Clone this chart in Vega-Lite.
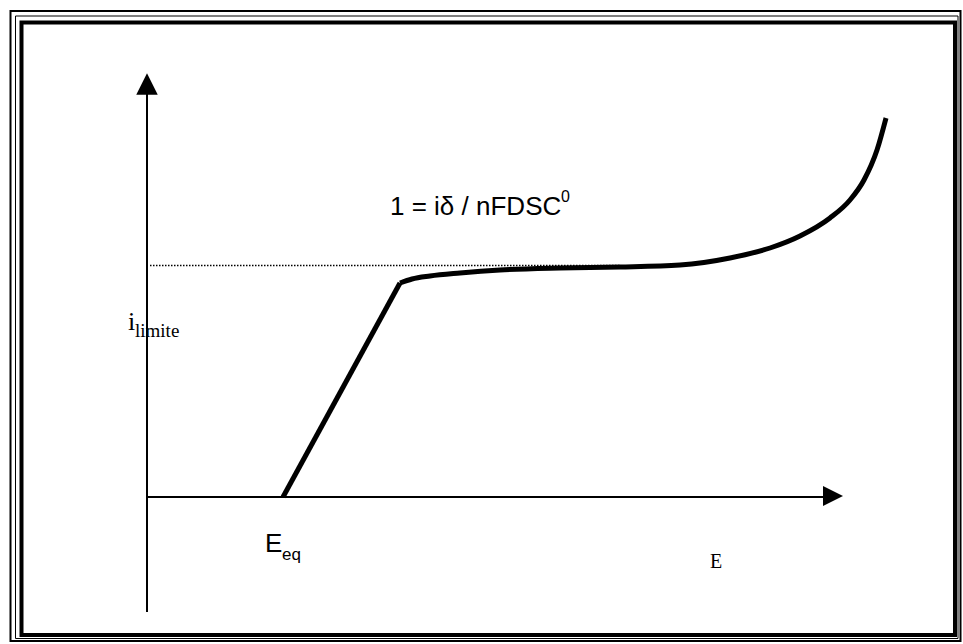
{
  "$schema": "https://vega.github.io/schema/vega-lite/v6.json",
  "width": 963,
  "height": 644,
  "autosize": {"type": "fit", "contains": "padding"},
  "padding": 0,
  "background": "white",
  "view": {"stroke": null},
  "datasets": {
    "outerFrame": [{"x": 10.5, "x2": 960.5, "y": 11, "y2": 641}],
    "midFrame": [{"x": 15.5, "x2": 958, "y": 16, "y2": 638.5}],
    "innerFrame": [{"x": 21.5, "x2": 955, "y": 22.5, "y2": 635}],
    "yAxis": [{"x": 147, "y": 92, "y2": 612}],
    "xAxis": [{"x": 147, "x2": 826, "y": 497}],
    "yArrow": [{"x": 147, "y": 84}],
    "xArrow": [{"x": 833, "y": 496}],
    "dotted": [{"x": 150, "x2": 620, "y": 265.5}],
    "rise": [{"x": 283, "y": 497}, {"x": 400, "y": 283}],
    "plateau": [
      {"x": 400, "y": 283}, {"x": 412, "y": 279}, {"x": 430, "y": 276}, {"x": 460, "y": 273},
      {"x": 500, "y": 270}, {"x": 560, "y": 268}, {"x": 620, "y": 267}, {"x": 680, "y": 265},
      {"x": 730, "y": 258}, {"x": 770, "y": 248}, {"x": 800, "y": 236}, {"x": 830, "y": 218},
      {"x": 850, "y": 200}, {"x": 864, "y": 180}, {"x": 877, "y": 150}, {"x": 886, "y": 118}
    ],
    "eqMain": [{"x": 390, "y": 215, "t": "1 = iδ / nFDSC"}],
    "eqSup": [{"x": 561, "y": 202, "t": "0"}],
    "iMain": [{"x": 128, "y": 330, "t": "i"}],
    "iSub": [{"x": 135, "y": 337, "t": "limite"}],
    "eeqMain": [{"x": 265, "y": 552, "t": "E"}],
    "eeqSub": [{"x": 282, "y": 560, "t": "eq"}],
    "eLabel": [{"x": 710, "y": 568, "t": "E"}]
  },
  "layer": [
    {
      "data": {"name": "outerFrame"},
      "mark": {"type": "rect", "filled": false, "stroke": "black", "strokeWidth": 2},
      "encoding": {
        "x": {"field": "x", "type": "quantitative", "scale": {"domain": [0, 963], "nice": false, "zero": false}, "axis": null},
        "x2": {"field": "x2"},
        "y": {"field": "y", "type": "quantitative", "scale": {"domain": [0, 644], "nice": false, "zero": false, "reverse": true}, "axis": null},
        "y2": {"field": "y2"}
      }
    },
    {
      "data": {"name": "midFrame"},
      "mark": {"type": "rect", "filled": false, "stroke": "black", "strokeWidth": 1},
      "encoding": {
        "x": {"field": "x", "type": "quantitative"},
        "x2": {"field": "x2"},
        "y": {"field": "y", "type": "quantitative"},
        "y2": {"field": "y2"}
      }
    },
    {
      "data": {"name": "innerFrame"},
      "mark": {"type": "rect", "filled": false, "stroke": "black", "strokeWidth": 4},
      "encoding": {
        "x": {"field": "x", "type": "quantitative"},
        "x2": {"field": "x2"},
        "y": {"field": "y", "type": "quantitative"},
        "y2": {"field": "y2"}
      }
    },
    {
      "data": {"name": "yAxis"},
      "mark": {"type": "rule", "color": "black", "strokeWidth": 2},
      "encoding": {
        "x": {"field": "x", "type": "quantitative"},
        "y": {"field": "y", "type": "quantitative"},
        "y2": {"field": "y2"}
      }
    },
    {
      "data": {"name": "xAxis"},
      "mark": {"type": "rule", "color": "black", "strokeWidth": 2},
      "encoding": {
        "x": {"field": "x", "type": "quantitative"},
        "x2": {"field": "x2"},
        "y": {"field": "y", "type": "quantitative"}
      }
    },
    {
      "data": {"name": "yArrow"},
      "mark": {"type": "point", "shape": "M0,-1L1,1L-1,1Z", "filled": true, "color": "black", "opacity": 1, "size": 460},
      "encoding": {
        "x": {"field": "x", "type": "quantitative"},
        "y": {"field": "y", "type": "quantitative"}
      }
    },
    {
      "data": {"name": "xArrow"},
      "mark": {"type": "point", "shape": "M1,0L-1,-1L-1,1Z", "filled": true, "color": "black", "opacity": 1, "size": 400},
      "encoding": {
        "x": {"field": "x", "type": "quantitative"},
        "y": {"field": "y", "type": "quantitative"}
      }
    },
    {
      "data": {"name": "dotted"},
      "mark": {"type": "rule", "color": "black", "strokeWidth": 1.5, "strokeDash": [1.5, 1.5]},
      "encoding": {
        "x": {"field": "x", "type": "quantitative"},
        "x2": {"field": "x2"},
        "y": {"field": "y", "type": "quantitative"}
      }
    },
    {
      "data": {"name": "rise"},
      "mark": {"type": "line", "color": "black", "strokeWidth": 5, "strokeCap": "butt"},
      "encoding": {
        "x": {"field": "x", "type": "quantitative"},
        "y": {"field": "y", "type": "quantitative"}
      }
    },
    {
      "data": {"name": "plateau"},
      "mark": {"type": "line", "color": "black", "strokeWidth": 5, "interpolate": "monotone", "strokeJoin": "round"},
      "encoding": {
        "x": {"field": "x", "type": "quantitative"},
        "y": {"field": "y", "type": "quantitative"}
      }
    },
    {
      "data": {"name": "eqMain"},
      "mark": {"type": "text", "font": "Liberation Sans", "fontSize": 26, "align": "left", "baseline": "alphabetic", "color": "black"},
      "encoding": {
        "x": {"field": "x", "type": "quantitative"},
        "y": {"field": "y", "type": "quantitative"},
        "text": {"field": "t"}
      }
    },
    {
      "data": {"name": "eqSup"},
      "mark": {"type": "text", "font": "Liberation Sans", "fontSize": 16, "align": "left", "baseline": "alphabetic", "color": "black"},
      "encoding": {
        "x": {"field": "x", "type": "quantitative"},
        "y": {"field": "y", "type": "quantitative"},
        "text": {"field": "t"}
      }
    },
    {
      "data": {"name": "iMain"},
      "mark": {"type": "text", "font": "Liberation Serif", "fontSize": 26, "align": "left", "baseline": "alphabetic", "color": "black"},
      "encoding": {
        "x": {"field": "x", "type": "quantitative"},
        "y": {"field": "y", "type": "quantitative"},
        "text": {"field": "t"}
      }
    },
    {
      "data": {"name": "iSub"},
      "mark": {"type": "text", "font": "Liberation Serif", "fontSize": 19, "align": "left", "baseline": "alphabetic", "color": "black"},
      "encoding": {
        "x": {"field": "x", "type": "quantitative"},
        "y": {"field": "y", "type": "quantitative"},
        "text": {"field": "t"}
      }
    },
    {
      "data": {"name": "eeqMain"},
      "mark": {"type": "text", "font": "Liberation Sans", "fontSize": 26, "align": "left", "baseline": "alphabetic", "color": "black"},
      "encoding": {
        "x": {"field": "x", "type": "quantitative"},
        "y": {"field": "y", "type": "quantitative"},
        "text": {"field": "t"}
      }
    },
    {
      "data": {"name": "eeqSub"},
      "mark": {"type": "text", "font": "Liberation Sans", "fontSize": 17, "align": "left", "baseline": "alphabetic", "color": "black"},
      "encoding": {
        "x": {"field": "x", "type": "quantitative"},
        "y": {"field": "y", "type": "quantitative"},
        "text": {"field": "t"}
      }
    },
    {
      "data": {"name": "eLabel"},
      "mark": {"type": "text", "font": "Liberation Serif", "fontSize": 20, "align": "left", "baseline": "alphabetic", "color": "black"},
      "encoding": {
        "x": {"field": "x", "type": "quantitative"},
        "y": {"field": "y", "type": "quantitative"},
        "text": {"field": "t"}
      }
    }
  ]
}
